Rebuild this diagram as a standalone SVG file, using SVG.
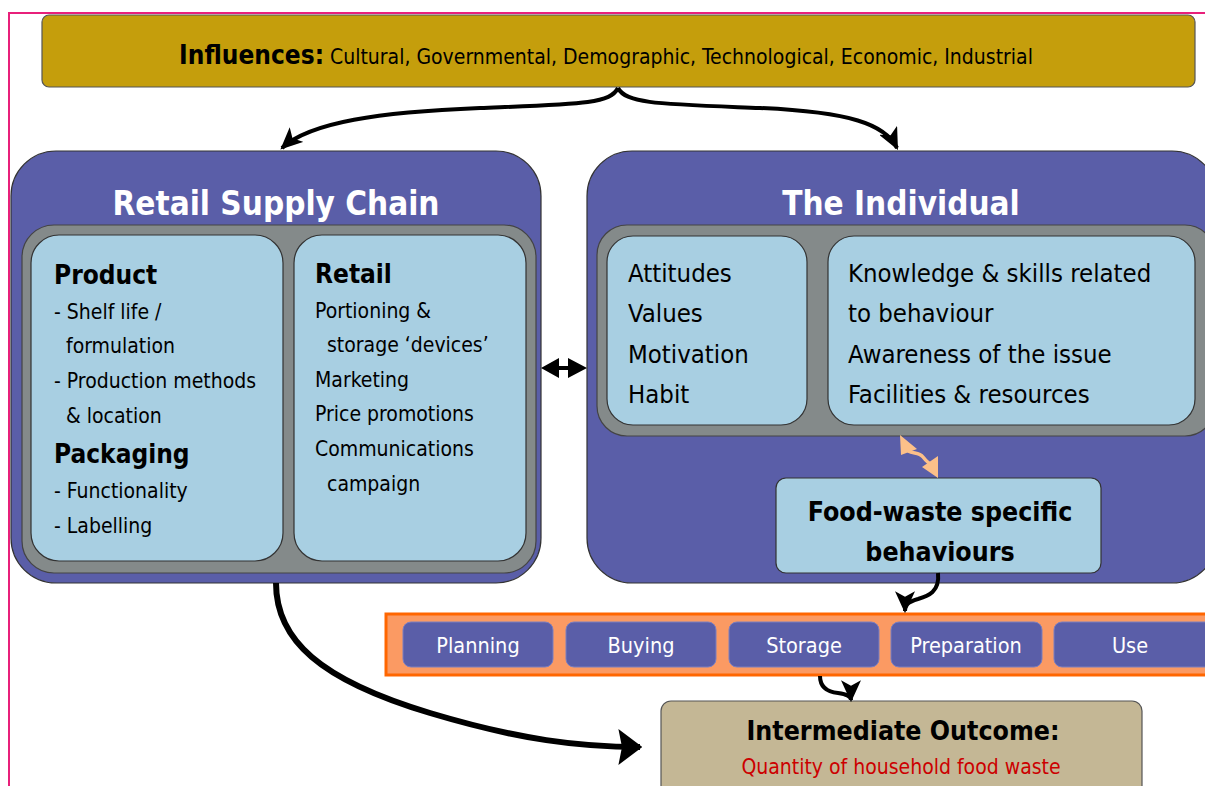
<svg xmlns="http://www.w3.org/2000/svg" width="1205" height="786" viewBox="0 0 1205 786">
<defs>
<style>
.t{font-family:"DejaVu Sans Condensed","DejaVu Sans",sans-serif;fill:#000}
.b{font-weight:bold}
.w{fill:#fff}
.panel{fill:#5a5ea8;stroke:#333;stroke-width:1.2}
.gray{fill:#848a8a;stroke:#444;stroke-width:1.2}
.light{fill:#a8cfe2;stroke:#333;stroke-width:1.2}
.btn{fill:#5a5ea8;stroke:#7a7ec0;stroke-width:1}
.conn{fill:none;stroke:#000;stroke-width:4}
</style>
<marker id="ah" viewBox="0 0 10 10" refX="9" refY="5" markerWidth="22" markerHeight="20" markerUnits="userSpaceOnUse" orient="auto" preserveAspectRatio="none">
<path d="M0,0 L10,5 L0,10 L2.5,5 Z" fill="#000"/>
</marker>
<marker id="ahBig" viewBox="0 0 10 10" refX="9" refY="5" markerWidth="24" markerHeight="36" markerUnits="userSpaceOnUse" orient="auto" preserveAspectRatio="none">
<path d="M0,0 L10,5 L0,10 L1.5,5 Z" fill="#000"/>
</marker>
</defs>
<rect x="0" y="0" width="1205" height="786" fill="#fff"/>
<path d="M9,786 L9,13 L1205,13" fill="none" stroke="#e8207a" stroke-width="2"/>

<g id="influences">
<rect x="42" y="15" width="1153" height="72" rx="7" fill="#c59e0c" stroke="#555" stroke-width="1.2"/>
<text class="t" x="606" y="64" text-anchor="middle" font-size="21"><tspan class="b" font-size="26">Influences:</tspan> Cultural, Governmental, Demographic, Technological, Economic, Industrial</text>
</g>

<g id="retail-supply-chain">
<rect class="panel" x="11" y="151" width="530" height="432" rx="45"/>
<text class="t w b" x="276" y="215" text-anchor="middle" font-size="33">Retail Supply Chain</text>
<rect class="gray" x="22" y="225" width="514" height="348" rx="32"/>
</g>

<g id="product-packaging">
<rect class="light" x="31" y="235" width="252" height="326" rx="28"/>
<text class="t b" x="54" y="284" font-size="26">Product</text>
<text class="t" font-size="21"><tspan x="54" y="319">- Shelf life /</tspan><tspan x="66" y="353">formulation</tspan><tspan x="54" y="388">- Production methods</tspan><tspan x="66" y="423">&amp; location</tspan></text>
<text class="t b" x="54" y="463" font-size="26">Packaging</text>
<text class="t" font-size="21"><tspan x="54" y="498">- Functionality</tspan><tspan x="54" y="533">- Labelling</tspan></text>
</g>

<g id="retail">
<rect class="light" x="294" y="235" width="232" height="326" rx="28"/>
<text class="t b" x="315" y="283" font-size="26">Retail</text>
<text class="t" font-size="21"><tspan x="315" y="318">Portioning &amp;</tspan><tspan x="327" y="352">storage ‘devices’</tspan><tspan x="315" y="387">Marketing</tspan><tspan x="315" y="421">Price promotions</tspan><tspan x="315" y="456">Communications</tspan><tspan x="327" y="491">campaign</tspan></text>
</g>

<g id="the-individual">
<rect class="panel" x="587" y="151" width="630" height="432" rx="45"/>
<text class="t w b" x="901" y="215" text-anchor="middle" font-size="33">The Individual</text>
<rect class="gray" x="597" y="225" width="618" height="211" rx="30"/>
</g>

<g id="attitudes">
<rect class="light" x="607" y="236" width="200" height="189" rx="26"/>
<text class="t" font-size="25.5"><tspan x="628" y="282">Attitudes</tspan><tspan x="628" y="322">Values</tspan><tspan x="628" y="363">Motivation</tspan><tspan x="628" y="403">Habit</tspan></text>
</g>

<g id="knowledge">
<rect class="light" x="828" y="236" width="367" height="189" rx="26"/>
<text class="t" font-size="25.5"><tspan x="848" y="282">Knowledge &amp; skills related</tspan><tspan x="848" y="322">to behaviour</tspan><tspan x="848" y="363">Awareness of the issue</tspan><tspan x="848" y="403">Facilities &amp; resources</tspan></text>
</g>

<g id="food-waste-behaviours">
<rect class="light" x="776" y="478" width="325" height="95" rx="10"/>
<text class="t b" font-size="26.5" text-anchor="middle"><tspan x="940" y="521">Food-waste specific</tspan><tspan x="940" y="561">behaviours</tspan></text>
</g>

<g id="stages">
<rect x="386" y="614" width="830" height="61" fill="#fb9a63" stroke="#ff6600" stroke-width="3"/>
<g id="planning"><rect class="btn" x="403" y="622" width="150" height="45" rx="8"/><text class="t w" x="478" y="653" text-anchor="middle" font-size="21.5">Planning</text></g>
<g id="buying"><rect class="btn" x="566" y="622" width="150" height="45" rx="8"/><text class="t w" x="641" y="653" text-anchor="middle" font-size="21.5">Buying</text></g>
<g id="storage"><rect class="btn" x="729" y="622" width="150" height="45" rx="8"/><text class="t w" x="804" y="653" text-anchor="middle" font-size="21.5">Storage</text></g>
<g id="preparation"><rect class="btn" x="891" y="622" width="151" height="45" rx="8"/><text class="t w" x="966" y="653" text-anchor="middle" font-size="21.5">Preparation</text></g>
<g id="use"><rect class="btn" x="1054" y="622" width="160" height="45" rx="8"/><text class="t w" x="1130" y="653" text-anchor="middle" font-size="21.5">Use</text></g>
</g>

<g id="intermediate-outcome">
<rect x="661" y="701" width="481" height="100" rx="10" fill="#c4b795" stroke="#555" stroke-width="1.2"/>
<text class="t b" x="903" y="740" text-anchor="middle" font-size="26.5">Intermediate Outcome:</text>
<text class="t" x="901" y="774" text-anchor="middle" font-size="21" style="fill:#cc0000">Quantity of household food waste</text>
</g>

<g id="connectors">
<path class="conn" d="M618,88 C610,104 580,104 480,108 C380,112 310,122 282,148" marker-end="url(#ah)"/>
<path class="conn" d="M618,88 C626,104 660,104 760,108 C850,112 885,124 897,148" marker-end="url(#ah)"/>
<g id="panels-link">
<path d="M555,368 L572,368" fill="none" stroke="#000" stroke-width="4"/>
<path d="M541,368 L559,358 L559,378 Z M587,368 L568,358 L568,378 Z" fill="#000"/>
</g>
<g id="orange-link">
<path d="M908,451 C914,454 919,452 923,457 C927,462 930,464 932,465" fill="none" stroke="#fcc089" stroke-width="3.5"/>
<path d="M900,435 L901,455 L917,449 Z M938,478 L938,456 L922,467 Z" fill="#fcc089"/>
</g>
<path class="conn" d="M938,573 C940,592 928,596 918,599 C907,602 905,606 905,611" marker-end="url(#ah)"/>
<path class="conn" d="M820,676 C820,688 828,692 838,693 C847,694 851,697 851,700" marker-end="url(#ah)"/>
<path d="M276,583 C276,640 320,680 430,713 C520,740 580,747 640,747" fill="none" stroke="#000" stroke-width="6" marker-end="url(#ahBig)"/>
</g>
</svg>
